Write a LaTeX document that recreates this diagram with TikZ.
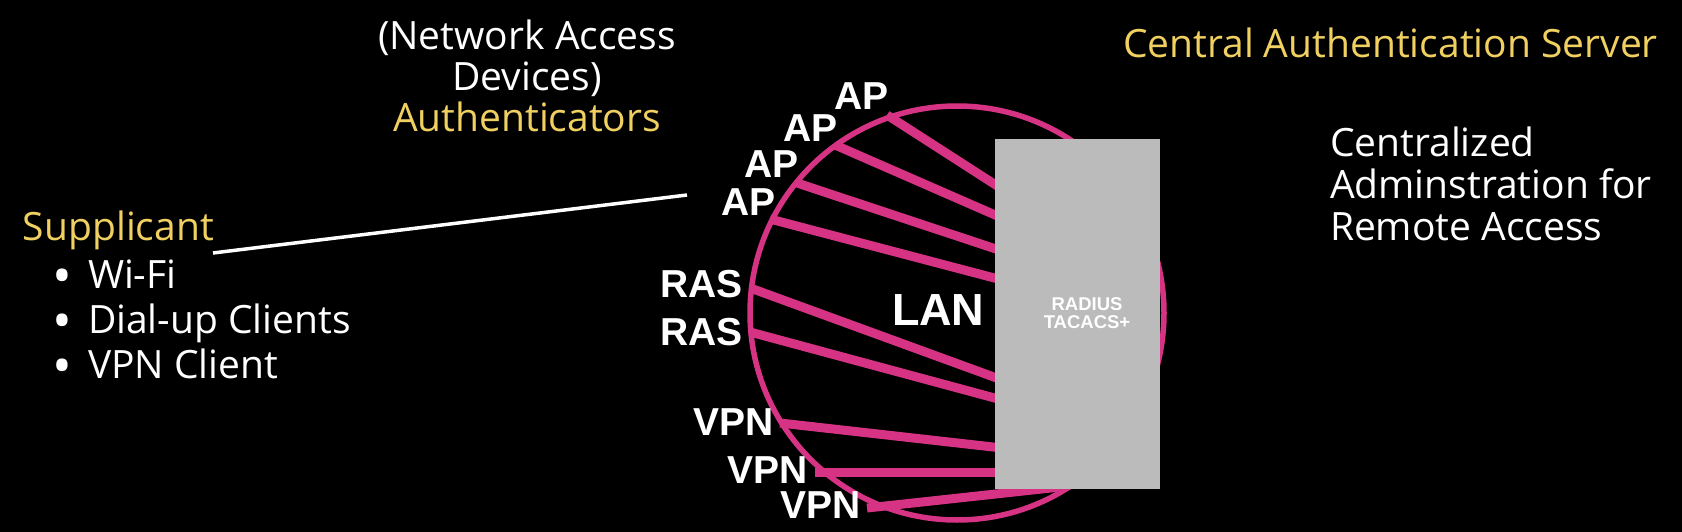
\documentclass[tikz,border=0pt]{standalone}
\usepackage{fontspec}
\setmainfont{Open Sans}
\newfontfamily\labelfont{Liberation Sans}
\definecolor{mag}{HTML}{D63384}
\definecolor{gold}{HTML}{F0D060}
\definecolor{boxgray}{HTML}{BBBBBB}
\newcommand{\bul}{\makebox[36pt][l]{\smash{\raisebox{-6.5pt}{\scalebox{1.35}{•}}}}}
\begin{document}
\begin{tikzpicture}[x=1pt,y=-1pt,
  txt/.style={inner sep=0pt, outer sep=0pt, text=white, font=\fontsize{39}{42}\selectfont},
  goldtxt/.style={txt, text=gold},
  devlabel/.style={inner sep=0pt, outer sep=0pt, text=white, font=\labelfont\bfseries\fontsize{39}{39}\selectfont, anchor=base east},
  spoke/.style={draw=mag, line width=9pt},
  ring/.style={draw=mag, line width=5.5pt, circle, minimum size=414pt, inner sep=0pt},
  serverbox/.style={fill=boxgray, minimum width=165pt, minimum height=350pt, inner sep=0pt, anchor=north west},
  link/.style={draw=white, line width=3.5pt}]
\fill[black] (0,0) rectangle (1682,532);
\useasboundingbox (0,0) rectangle (1682,532);

% LAN ring
\node[ring] (lanring) at (957,313) {};

% spoke end points
\coordinate (ap1s) at (887,115);  \coordinate (ap1e) at (1002,189);
\coordinate (ap2s) at (835,145);  \coordinate (ap2e) at (1002,218);
\coordinate (ap3s) at (797,183);  \coordinate (ap3e) at (1002,251);
\coordinate (ap4s) at (770,219);  \coordinate (ap4e) at (1002,280);
\coordinate (ras1s) at (753,289); \coordinate (ras1e) at (1002,380);
\coordinate (ras2s) at (750,332); \coordinate (ras2e) at (1002,400);
\coordinate (vpn1s) at (780,423); \coordinate (vpn1e) at (1002,448);
\coordinate (vpn2s) at (815,472); \coordinate (vpn2e) at (1002,472);
\coordinate (vpn3s) at (867,508); \coordinate (vpn3e) at (1060,487);

\foreach \s in {ap1,ap2,ap3,ap4,ras1,ras2,vpn1,vpn2,vpn3}
  \draw[spoke] (\s s) -- (\s e);

% server box
\node[serverbox] (server) at (995,139) {};
\node[inner sep=0pt, text=white, font=\labelfont\bfseries\fontsize{18.5}{18}\selectfont, align=center, anchor=base] (serverlabel) at (1087,328) {RADIUS\\TACACS+};

% device labels
\node[devlabel] (ap1) at (889,110) {AP};
\node[devlabel] (ap2) at (838,142) {AP};
\node[devlabel] (ap3) at (799,178) {AP};
\node[devlabel] (ap4) at (776,215) {AP};
\node[devlabel] (ras1) at (743,297) {RAS};
\node[devlabel] (ras2) at (743,345) {RAS};
\node[devlabel] (vpn1) at (774,435) {VPN};
\node[devlabel] (vpn2) at (808,483) {VPN};
\node[devlabel] (vpn3) at (861,518) {VPN};
\node[devlabel, font=\labelfont\bfseries\fontsize{45}{45}\selectfont, anchor=base west] (lan) at (892,325) {LAN};

% texts (multi-line nodes: base = last line)
\node[txt, align=center, anchor=base, font=\fontsize{39}{41}\selectfont] (nad) at (527,132) {(Network Access\\Devices)\\\textcolor{gold}{Authenticators}};
\node[goldtxt, anchor=base west] (supplicant) at (23,240) {Supplicant};
\node[txt, align=left, anchor=base west, font=\fontsize{39}{45}\selectfont] (clients) at (52,378)
  {\bul Wi-Fi\\\bul Dial-up Clients\\\bul VPN Client};
\node[goldtxt, anchor=base west] (cas) at (1123,58) {Central Authentication Server};
\node[txt, align=left, anchor=base west] (admin) at (1330,240) {Centralized\\Adminstration for\\Remote Access};

% supplicant to authenticators
\coordinate (supptail) at (213,253);
\coordinate (authtail) at (687,195);
\draw[link] (supptail) -- (authtail);
\end{tikzpicture}
\end{document}
